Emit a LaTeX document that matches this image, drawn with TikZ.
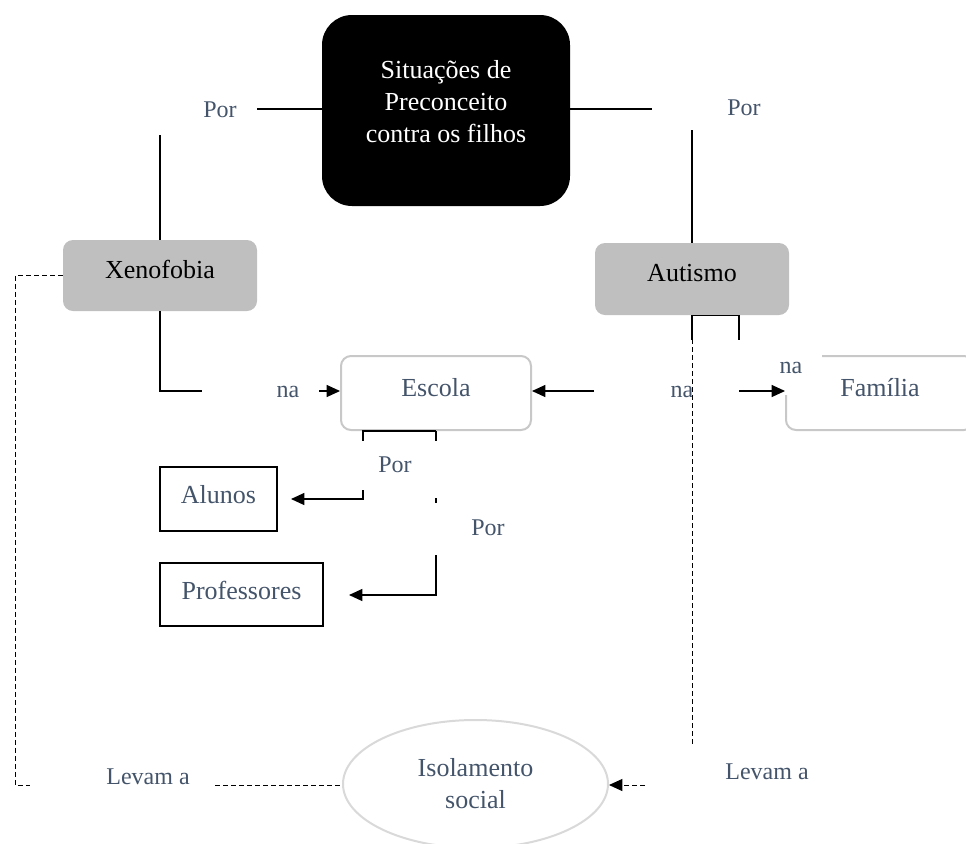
\documentclass[tikz,border=0pt]{standalone}
\usepackage{fontspec}
\setmainfont{Liberation Serif}
\usetikzlibrary{arrows.meta,shapes.geometric}
\definecolor{slate}{HTML}{44546A}
\definecolor{panel}{HTML}{BFBFBF}
\definecolor{rim}{HTML}{C8C8C8}
\definecolor{ring}{HTML}{D9D9D9}
\begin{document}
\begin{tikzpicture}[x=0.75pt,y=-0.75pt,
  every node/.style={font=\fontsize{19.5pt}{24pt}\selectfont},
  topbox/.style={fill=black,draw=none,rounded corners=22.5pt},
  cat/.style={fill=panel,draw=none,rounded corners=7.5pt,text=black,
    minimum width=145.5pt,text depth=9.5pt},
  place/.style={draw=rim,line width=1.5pt,fill=white,rounded corners=7.5pt,
    text=slate,minimum width=142.5pt,minimum height=55.5pt,text depth=8pt},
  who/.style={draw=black,line width=0.9pt,text=slate,text depth=6.5pt},
  word/.style={text=slate,font=\fontsize{18pt}{22pt}\selectfont,inner sep=0pt},
  link/.style={draw=black,line width=0.9pt},
  dash link/.style={draw=black,line width=0.75pt,dash pattern=on 3.75pt off 2.25pt},
  tip/.style={-{Triangle[length=10pt,width=9pt]}}]
\useasboundingbox (0,0) rectangle (966,843);
\clip (0,0) rectangle (966,843);

% boxes
\node[topbox,minimum width=186pt,minimum height=143.25pt,
  label={[text=white,align=center,yshift=6.75pt]center:Situações de\\Preconceito\\contra os filhos}]
  (top) at (446,110.5) {};
\node[cat,minimum height=53.25pt] (xeno) at (160,275.5) {Xenofobia};
\node[cat,minimum height=54pt] (aut) at (692,279) {Autismo};
\node[place] (escola) at (436,393) {Escola};
\node[place,minimum width=141pt] (fam) at (880,393) {Família};
\node[who,minimum width=87.75pt,minimum height=48pt] (alunos) at (218.5,499) {Alunos};
\node[who,minimum width=122.25pt,minimum height=47.25pt] (prof) at (241.5,594.5) {Professores};
\node[ellipse,draw=ring,line width=1.5pt,minimum width=198.75pt,minimum height=96pt,
  text=slate,align=center] (isol) at (475.5,784) {Isolamento\\social};

% connector labels
\node[word] (porL) at (220,110) {Por};
\node[word] (porR) at (744,108) {Por};
\node[word] (naX) at (288,392) {na};
\node[word] (naE) at (682,392) {na};
\node[word,fill=white,minimum width=46.5pt,minimum height=40.5pt] (naF) at (791,368) {na};
\node[word] (porA) at (395,465) {Por};
\node[word] (porP) at (488,528) {Por};
\node[word] (levL) at (148,777) {Levam a};
\node[word] (levR) at (767,772) {Levam a};

% ends of the visible connector pieces
\coordinate (a1) at (257,109);
\coordinate (a2) at (160,135);
\coordinate (b1) at (652,109);
\coordinate (b2) at (692,130);
\coordinate (c1) at (202,391);
\coordinate (c2) at (319,391);
\coordinate (d1) at (692,340);
\coordinate (d2) at (739,340);
\coordinate (d3) at (594,391);
\coordinate (d4) at (739,391);
\coordinate (e1) at (363,441);
\coordinate (e2) at (436,441);
\coordinate (e3) at (363,490);
\coordinate (e4) at (291,499);
\coordinate (e5) at (436,498);
\coordinate (e6) at (436,503);
\coordinate (e7) at (436,555);
\coordinate (e8) at (349,595);
\coordinate (f1) at (15,785);
\coordinate (f2) at (30,785);
\coordinate (f3) at (215,785);
\coordinate (g1) at (692,745);
\coordinate (g2) at (645,785);

% solid connectors
\draw[link] (top.west |- a1) -- (a1);
\draw[link] (a2) -- (xeno.north);
\draw[link] (top.east |- b1) -- (b1);
\draw[link] (b2) -- (aut.north);
\draw[link] (xeno.south) |- (c1);
\draw[link,tip] (c2) -- (c2 -| escola.west);
\draw[link] (aut.south) -- (d1);
\draw[link] (aut.south) -| (d2);
\draw[link,tip] (d3) -- (d3 -| escola.east);
\draw[link,tip] (d4) -- (d4 -| fam.west);
\draw[link] (escola.south) -| (e1);
\draw[link] (escola.south) -- (e2);
\draw[link,tip] (e3) |- (e4);
\draw[link] (e5) -- (e6);
\draw[link,tip] (e7) |- (e8);

% dashed connectors
\draw[dash link] (xeno.west) -| (f1) -- (f2);
\draw[dash link] (f3) -- (f3 -| isol.west);
\draw[dash link] (aut.south) -- (g1);
\draw[dash link,tip] (g2) -- (g2 -| isol.east);
\end{tikzpicture}
\end{document}
